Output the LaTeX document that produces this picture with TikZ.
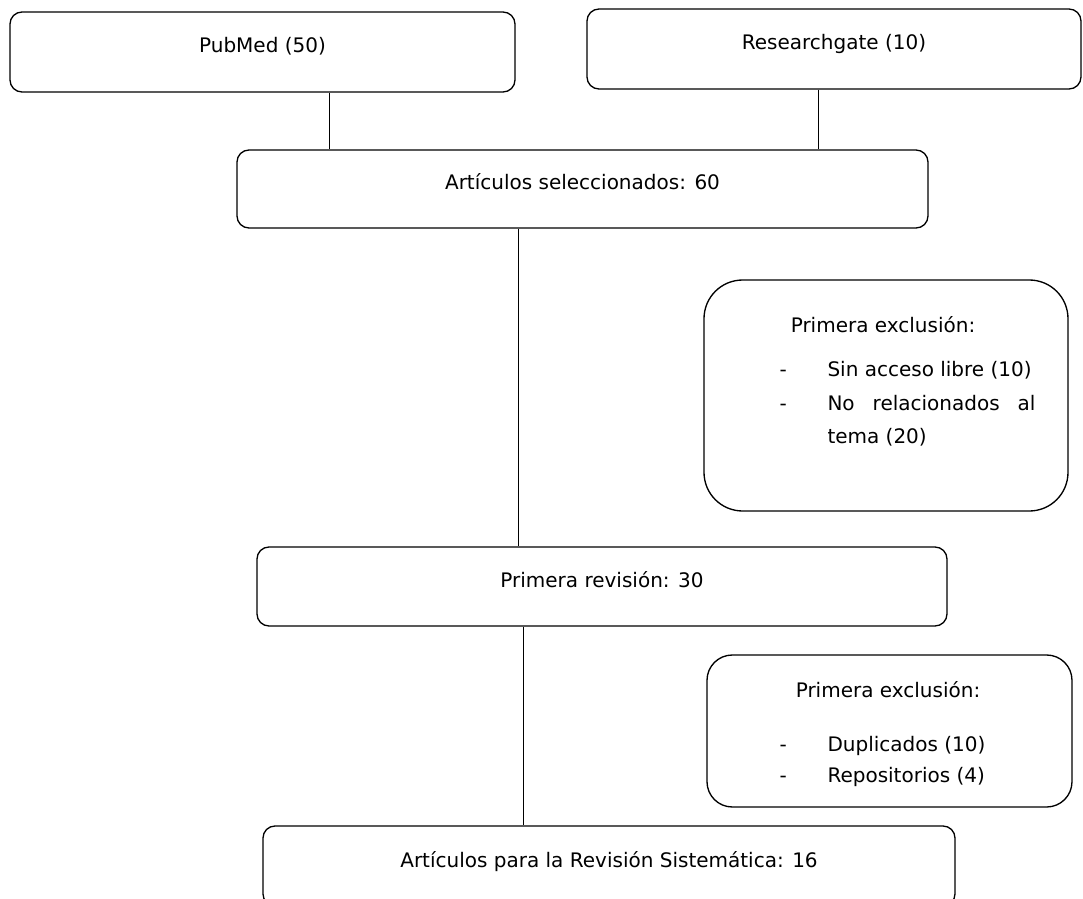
\documentclass[tikz,border=0pt]{standalone}
\usepackage{fontspec}
\setmainfont{DejaVu Sans}
\tikzset{every picture/.style={line width=0.75pt}}
\tikzset{
  flowbox/.style={draw, rounded corners=9pt, line width=1pt, text height=10pt, text depth=8.5pt, font=\fontsize{15pt}{23pt}\selectfont},
  exclbox/.style={draw, line width=1pt},
  txt/.style={font=\fontsize{15pt}{23pt}\selectfont, inner sep=0pt},
}

\begin{document}
\begin{tikzpicture}[x=0.75pt,y=0.75pt,yscale=-1,xscale=1]
\clip (0,0) rectangle (1083,899);

% Boxes
\node [flowbox, minimum width=378.75pt, minimum height=60pt] (pubmed) at (262.5,52) {PubMed (50)};
\node [flowbox, minimum width=370.5pt, minimum height=60pt] (rg) at (834,49) {Researchgate (10)};
\node [flowbox, minimum width=518.25pt, minimum height=58.5pt] (sel) at (582.5,189) {Artículos seleccionados: 60};
\node [flowbox, minimum width=517.5pt, minimum height=59.25pt] (rev) at (602,586.5) {Primera revisión: 30};
\node [flowbox, minimum width=519pt, minimum height=60pt] (final) at (609,866) {Artículos para la Revisión Sistemática: 16};

% Exclusion boxes
\node [exclbox, rounded corners=29pt, minimum width=273pt, minimum height=173.25pt] (excl1) at (886,395.5) {};
\node [exclbox, rounded corners=19pt, minimum width=273.75pt, minimum height=114pt] (excl2) at (889.5,731) {};

% Text Node
\node [txt] (excl1title) at (883,325) {Primera exclusión:};
\node [txt, anchor=west] (excl1a) at (779,370) {\makebox[36pt][l]{-}Sin acceso libre (10)};
\node [txt, anchor=west] (excl1b) at (779,403) {\makebox[36pt][l]{-}\makebox[156pt][s]{No relacionados al}};
\node [txt, anchor=west] (excl1c) at (827,437) {tema (20)};
% Text Node
\node [txt] (excl2title) at (888,690) {Primera exclusión:};
\node [txt, anchor=west] (excl2a) at (779,746) {\makebox[36pt][l]{-}Duplicados (10)};
\node [txt, anchor=west] (excl2b) at (779,777) {\makebox[36pt][l]{-}Repositorios (4)};

% Connectors
\draw (pubmed.south -| 329,0) -- (sel.north -| 329,0);
\draw (rg.south -| 818,0) -- (sel.north -| 818,0);
\draw (sel.south -| 518,0) -- (rev.north -| 518,0);
\draw (rev.south -| 523,0) -- (final.north -| 523,0);

\end{tikzpicture}
\end{document}
